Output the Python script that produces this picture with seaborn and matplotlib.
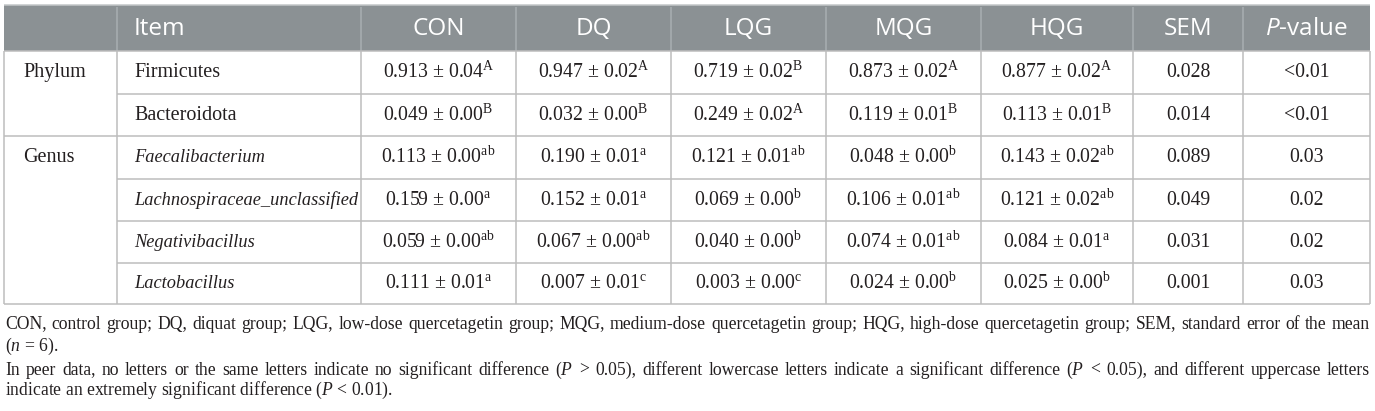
import matplotlib
matplotlib.use("Agg")
import matplotlib.pyplot as plt
import seaborn as sns
import pandas as pd

# ---------------- data ----------------
groups = ["Phylum", "Phylum", "Genus", "Genus", "Genus", "Genus"]
items = ["Firmicutes", "Bacteroidota", "Faecalibacterium",
         "Lachnospiraceae_unclassified", "Negativibacillus", "Lactobacillus"]
italic_items = [False, False, True, True, True, True]
columns = ["CON", "DQ", "LQG", "MQG", "HQG"]

con_mean = [0.913, 0.049, 0.113, 0.159, 0.059, 0.111]
con_sd = [0.04, 0.00, 0.00, 0.00, 0.00, 0.01]
con_let = ["A", "B", "ab", "a", "ab", "a"]

dq_mean = [0.947, 0.032, 0.190, 0.152, 0.067, 0.007]
dq_sd = [0.02, 0.00, 0.01, 0.01, 0.00, 0.01]
dq_let = ["A", "B", "a", "a", "ab", "c"]

lqg_mean = [0.719, 0.249, 0.121, 0.069, 0.040, 0.003]
lqg_sd = [0.02, 0.02, 0.01, 0.00, 0.00, 0.00]
lqg_let = ["B", "A", "ab", "b", "b", "c"]

mqg_mean = [0.873, 0.119, 0.048, 0.106, 0.074, 0.024]
mqg_sd = [0.02, 0.01, 0.00, 0.01, 0.01, 0.00]
mqg_let = ["A", "B", "b", "ab", "ab", "b"]

hqg_mean = [0.877, 0.113, 0.143, 0.121, 0.084, 0.025]
hqg_sd = [0.02, 0.01, 0.02, 0.02, 0.01, 0.00]
hqg_let = ["A", "B", "ab", "ab", "a", "b"]

sem = [0.028, 0.014, 0.089, 0.049, 0.031, 0.001]
p_value = ["<0.01", "<0.01", "0.03", "0.02", "0.02", "0.03"]

footnotes = [
    "CON, control group; DQ, diquat group; LQG, low-dose quercetagetin group; MQG, medium-dose quercetagetin group; HQG, high-dose quercetagetin group; SEM, standard error of the mean",
    "($n$ = 6).",
    "In peer data, no letters or the same letters indicate no significant difference ($P$ > 0.05), different lowercase letters indicate a significant difference ($P$ < 0.05), and different uppercase letters",
    "indicate an extremely significant difference ($P$ < 0.01).",
]
foot_justify = [True, False, True, False]

# ---------------- table frame ----------------
means = [con_mean, dq_mean, lqg_mean, mqg_mean, hqg_mean]
sds = [con_sd, dq_sd, lqg_sd, mqg_sd, hqg_sd]
lets = [con_let, dq_let, lqg_let, mqg_let, hqg_let]

df = pd.DataFrame({"group": groups, "item": items})
for c, m, s, l in zip(columns, means, sds, lets):
    df[c] = [f"{a:.3f} \u00b1 {b:.2f}$^{{\\mathrm{{{x}}}}}$" for a, b, x in zip(m, s, l)]
df["SEM"] = [f"{v:.3f}" for v in sem]
df["P"] = p_value

# ---------------- style ----------------
sns.set_theme(style="white")
plt.rcParams["font.family"] = ["Liberation Serif", "DejaVu Serif"]
plt.rcParams["mathtext.fontset"] = "custom"
plt.rcParams["mathtext.rm"] = "Liberation Serif"
plt.rcParams["mathtext.it"] = "Liberation Serif:italic"
plt.rcParams["mathtext.cal"] = "Open Sans:italic"

W, H = 1375, 411
fig = plt.figure(figsize=(W / 100, H / 100), dpi=100)
ax = fig.add_axes([0, 0, 1, 1])
ax.set_xlim(0, W)
ax.set_ylim(H, 0)
ax.axis("off")

col_edges = [4, 117, 361, 516, 671, 826, 981, 1133, 1243, 1370]
row_edges = [51, 94, 136, 179, 221, 263, 304]
head_top = 5
header_color = "#8b9194"
grid_color = "#bdbdbd"
text_color = "#231f20"
lw = 1.1

# header band
ax.fill_between([col_edges[0], col_edges[-1]], head_top, row_edges[0],
                color=header_color, lw=0, zorder=1)
ax.hlines(head_top, col_edges[0], col_edges[-1], color="#c4c7c9", lw=lw, zorder=2)
ax.vlines(col_edges[1:-1], head_top + 2, row_edges[0], color="#a9aeb1", lw=lw, zorder=2)

head_y = (head_top + row_edges[0]) / 2 + 1
hfont = dict(family=["Open Sans", "DejaVu Sans"], fontsize=17.5, color="white",
             va="center", zorder=3)
ax.text(col_edges[1] + 17, head_y, "Item", ha="left", **hfont)
head_labels = columns + ["SEM", "$\\mathcal{P}$-value"]
for i, lab in enumerate(head_labels):
    cx = (col_edges[2 + i] + col_edges[3 + i]) / 2
    ax.text(cx, head_y, lab, ha="center", **hfont)

# grid
ax.vlines([col_edges[0], col_edges[-1]], row_edges[0], row_edges[-1], color=grid_color, lw=lw, zorder=2)
ax.vlines(col_edges[1:-1], row_edges[0], row_edges[-1], color=grid_color, lw=lw, zorder=2)
ax.hlines(row_edges[0], col_edges[0], col_edges[-1], color=grid_color, lw=lw, zorder=2)
ax.hlines(row_edges[-1], col_edges[0], col_edges[-1], color=grid_color, lw=lw, zorder=2)
for r in range(1, len(row_edges) - 1):
    same = df["group"].iloc[r] == df["group"].iloc[r - 1]
    x0 = col_edges[1] if same else col_edges[0]
    ax.hlines(row_edges[r], x0, col_edges[-1], color=grid_color, lw=lw, zorder=2)

# body text
bfont = dict(color=text_color, va="center", zorder=3)
for r in range(len(df)):
    cy = (row_edges[r] + row_edges[r + 1]) / 2
    if r == 0 or df["group"].iloc[r] != df["group"].iloc[r - 1]:
        ax.text(col_edges[0] + 19, cy, df["group"].iloc[r], ha="left", fontsize=14.5, **bfont)
    ax.text(col_edges[1] + 17, cy, df["item"].iloc[r], ha="left",
            style="italic" if italic_items[r] else "normal",
            fontsize=13.2 if italic_items[r] else 14.5, **bfont)
    for i, c in enumerate(columns + ["SEM", "P"]):
        cx = (col_edges[2 + i] + col_edges[3 + i]) / 2
        ax.text(cx, cy, df[c].iloc[r], ha="center", fontsize=14.2, **bfont)

# footnotes: pick the size whose natural line width fills the table width
fig.canvas.draw()
renderer = fig.canvas.get_renderer()
x_left, x_right = 5, 1370
probe = ax.text(0, 0, footnotes[0], fontsize=12)
nat = probe.get_window_extent(renderer).width
probe.remove()
foot_fs = 12 * (x_right - x_left) / nat * 0.985
foot_y = [324, 346, 370, 390]
ffont = dict(fontsize=foot_fs, color=text_color, va="center", zorder=3)
for line, y, just in zip(footnotes, foot_y, foot_justify):
    if not just:
        ax.text(x_left, y, line, ha="left", **ffont)
        continue
    words = line.split(" ")
    tlist = [ax.text(0, y, w, ha="left", **ffont) for w in words]
    widths = [t.get_window_extent(renderer).width for t in tlist]
    gap = (x_right - x_left - sum(widths)) / (len(words) - 1)
    x = x_left
    for t, w in zip(tlist, widths):
        t.set_x(x)
        x += w + gap

fig.savefig("out.png", dpi=100)
